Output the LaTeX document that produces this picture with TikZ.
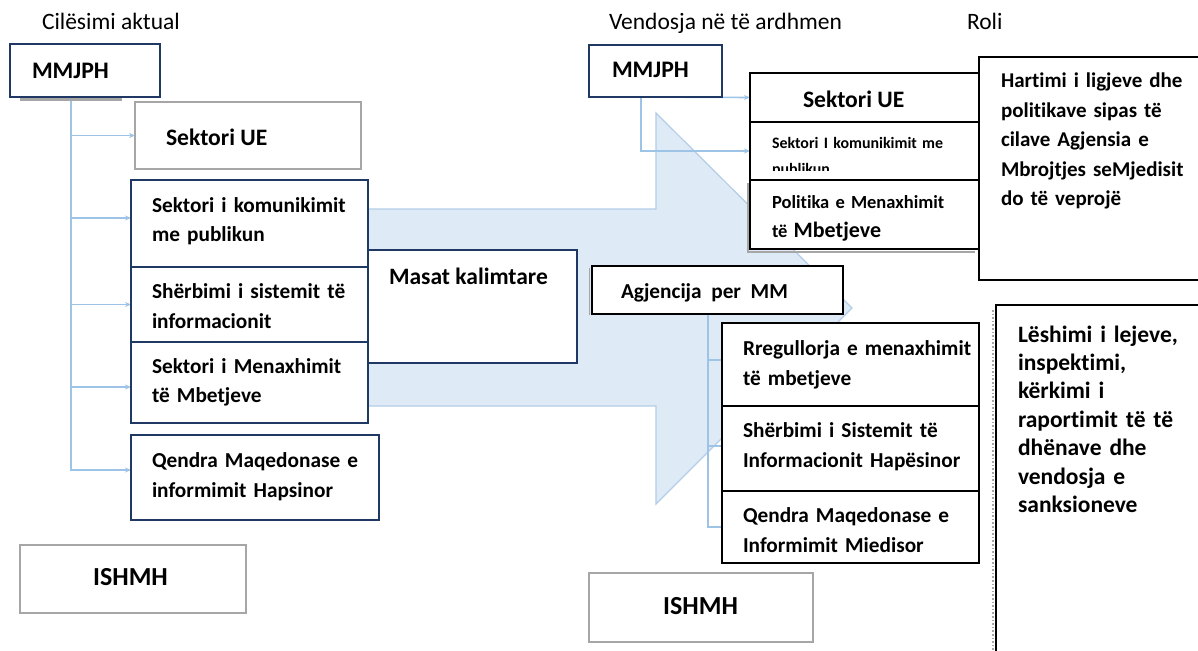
\documentclass[tikz,border=0pt]{standalone}
\usepackage{fontspec}
\setmainfont{Carlito}[Ligatures={NoCommon}]
\usetikzlibrary{arrows.meta}
\definecolor{navy}{HTML}{203864}
\definecolor{connc}{HTML}{9DC3E6}
\definecolor{arrfill}{HTML}{DEEAF6}
\definecolor{arrline}{HTML}{B4CDE8}
\definecolor{softgray}{HTML}{A6A6A6}
\newcommand\fsz[2]{\fontsize{#1}{#2}\selectfont}
\pgfdeclarelayer{bglayer}
\pgfdeclarelayer{arrowlayer}
\pgfdeclarelayer{connlayer}
\pgfsetlayers{bglayer,arrowlayer,connlayer,main}
\tikzset{
  boxbase/.style={rectangle, inner sep=0pt, outer sep=0pt, anchor=north west, fill=white},
  navybox/.style={boxbase, draw=navy, line width=1.6pt},
  blackbox/.style={boxbase, draw=black, line width=1.8pt},
  graybox/.style={boxbase, draw=softgray, line width=2.2pt},
  txt/.style={inner sep=0pt, outer sep=0pt, anchor=base west, align=left, font=\bfseries\fsz{21.3}{29}},
  mtxt/.style={txt, text width=#1},
  plain/.style={inner sep=0pt, outer sep=0pt, anchor=base west, font=\fsz{23.5}{28}},
  connline/.style={draw=connc, line width=1.6pt},
  conarrow/.style={connline, -{Stealth[length=6pt,width=5pt]}},
  bigarrow/.style={fill=arrfill, draw=arrline, line width=1.2pt, line join=miter},
  shadowline/.style={draw=softgray, line width=1.8pt},
}
\begin{document}
\begin{tikzpicture}[x=1pt,y=-1pt]
\useasboundingbox (0,0) rectangle (1198,650);
\begin{pgfonlayer}{bglayer}
\fill[white] (0,0) rectangle (1198,650);
\end{pgfonlayer}

% headers
\node[plain] (h1) at (42,29.5) {Cilësimi aktual};
\node[plain] (h2) at (609,30) {Vendosja në të ardhmen};
\node[plain] (h3) at (967,30) {Roli};

% big arrow
\begin{pgfonlayer}{arrowlayer}
\draw[bigarrow] (300,209) -- (656,209) -- (656,113) -- (852,308) -- (656,504) -- (656,406) -- (300,406) -- cycle;
\end{pgfonlayer}

% ---------- left column ----------
\fill[softgray] (20,96) rectangle (122,101);
\node[navybox, minimum width=150pt, minimum height=53pt] (mmL) at (10,44) {};
\node[graybox, minimum width=226pt, minimum height=67pt] (sueL) at (135,102) {};
\node[navybox, minimum width=237pt, minimum height=87pt] (komL) at (131,180) {};
\node[navybox, minimum width=237pt, minimum height=75pt] (shL) at (131,267) {};
\node[navybox, minimum width=237pt, minimum height=81pt] (menL) at (131,342) {};
\node[navybox, minimum width=248pt, minimum height=85pt] (qL) at (131,435) {};
\node[graybox, minimum width=226pt, minimum height=68pt] (ishL) at (20,545) {};
\node[navybox, minimum width=209pt, minimum height=113pt] (masat) at (368,250) {};

\node[txt, font=\bfseries\fsz{23.7}{29}] (tmmL) at (32,79) {MMJPH};
\node[txt, font=\bfseries\fsz{23.6}{29}] (tsueL) at (166,145) {Sektori UE};
\node[mtxt=220pt] (tkomL) at (152,212) {Sektori i komunikimit\\me publikun};
\node[mtxt=220pt, font=\bfseries\fsz{21.3}{30}] (tshL) at (152,298) {Shërbimi i sistemit të\\informacionit};
\node[mtxt=220pt] (tmenL) at (152,373) {Sektori i Menaxhimit\\të Mbetjeve};
\node[mtxt=225pt, font=\bfseries\fsz{21.3}{30}] (tqL) at (152,467) {Qendra Maqedonase e\\informimit Hapsinor};
\node[txt, anchor=base, font=\bfseries\fsz{26}{30}] (tishL) at (130.5,585.5) {ISHMH};
\node[txt, font=\bfseries\fsz{23.5}{29}] (tmasat) at (389,284) {Masat kalimtare};

\coordinate (lj) at (71,97);
\begin{pgfonlayer}{connlayer}
\draw[conarrow] (lj) |- (sueL.west);
\draw[conarrow] (lj) |- ([yshift=5.5pt]komL.west);
\draw[conarrow] (lj) |- (shL.west);
\draw[conarrow] (lj) |- ([yshift=-4.5pt]menL.west);
\draw[conarrow] (lj) |- ([yshift=7.5pt]qL.west);
\end{pgfonlayer}

% ---------- right side ----------
\node[navybox, minimum width=133pt, minimum height=52pt] (mmR) at (589,45) {};
\draw[shadowline] (748,183) -- (748,252) -- (975,252);
\node[blackbox, minimum width=229pt, minimum height=49pt] (sueR) at (750,73) {};
\node[blackbox, minimum width=229pt, minimum height=58pt] (komR) at (750,122) {};
\node[blackbox, minimum width=229pt, minimum height=69pt] (polR) at (750,180) {};
\node[blackbox, minimum width=260pt, minimum height=223pt] (hart) at (979,57) {};
\draw[shadowline] (589.5,268) -- (589.5,315);
\node[blackbox, minimum width=251pt, minimum height=48pt] (agj) at (592,266) {};
\node[blackbox, minimum width=257pt, minimum height=83pt] (rreg) at (722,323) {};
\node[blackbox, minimum width=257pt, minimum height=85pt] (shR) at (722,406) {};
\node[blackbox, minimum width=257pt, minimum height=72pt] (qR) at (722,491) {};
\draw[softgray, line width=1.6pt, dotted] (993,310) -- (993,650);
\node[blackbox, minimum width=260pt, minimum height=400pt] (lesh) at (996,305) {};
\node[graybox, minimum width=224pt, minimum height=69pt] (ishR) at (589,573) {};

\node[txt, font=\bfseries\fsz{23.7}{29}] (tmmR) at (612,78) {MMJPH};
\node[txt, font=\bfseries\fsz{23.6}{29}] (tsueR) at (803,107) {Sektori UE};
\begin{scope}
\clip (750,122) rectangle (979,170);
\node[mtxt=220pt, font=\bfseries\fsz{15.9}{26}] (tkomR) at (772,148) {Sektori I komunikimit me\\publikun};
\end{scope}
\node[mtxt=220pt, font=\bfseries\fsz{18.5}{29}] (tpolR) at (772,208) {Politika e Menaxhimit\\të {\fsz{22}{29}Mbetjeve}};
\node[mtxt=250pt, font=\bfseries\fsz{21}{29.5}] (thart) at (1001,88) {Hartimi i ligjeve dhe\\politikave sipas të\\cilave Agjensia e\\Mbrojtjes seMjedisit\\do të veprojë};
\node[txt] (tagj) at (621,298) {Agjencija\ \ per\ \ MM};
\node[mtxt=240pt, font=\bfseries\fsz{21.3}{30}] (trreg) at (743,355) {Rregullorja e menaxhimit\\të mbetjeve};
\node[mtxt=240pt, font=\bfseries\fsz{21.3}{30}] (tshR) at (743,437) {Shërbimi i Sistemit të\\Informacionit Hapësinor};
\begin{scope}
\clip (722,491) rectangle (979,552);
\node[mtxt=240pt, font=\bfseries\fsz{21.3}{30}] (tqR) at (743,522) {Qendra Maqedonase e\\Informimit Miedisor};
\end{scope}
\node[mtxt=250pt, font=\bfseries\fsz{23.5}{28.4}] (tlesh) at (1018,342) {Lëshimi i lejeve,\\inspektimi,\\kërkimi i\\raportimit të të\\dhënave dhe\\vendosja e\\sanksioneve};
\node[txt, anchor=base, font=\bfseries\fsz{26}{30}] (tishR) at (700.5,614) {ISHMH};

\coordinate (rj) at (641,97);
\coordinate (aj) at (708,314);
\begin{pgfonlayer}{connlayer}
\draw[conarrow] (rj) -- (sueR.west);
\draw[conarrow] (rj) |- (komR.west);
\draw[connline] (aj) |- ([yshift=4.5pt]rreg.west);
\draw[connline] (aj) |- ([yshift=2.5pt]shR.west);
\draw[connline] (aj) |- (qR.west);
\end{pgfonlayer}
\end{tikzpicture}
\end{document}
